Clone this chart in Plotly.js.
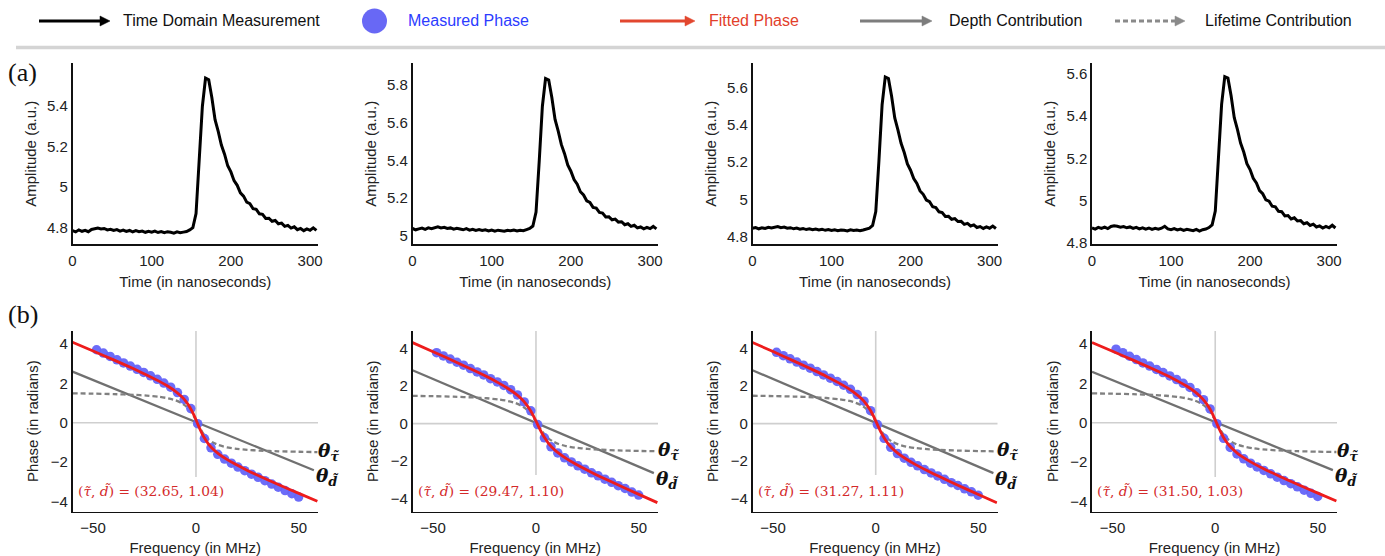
<!DOCTYPE html>
<html><head><meta charset="utf-8">
<script src="https://cdn.plot.ly/plotly-3.0.1.min.js"></script>
<style>html,body{margin:0;padding:0;background:#fff;} #chart{width:1385px;height:556px;}</style>
</head><body><div id="chart"></div>
<script>
// ---------- DATA ----------
const timeNs = [0,4,8,12,16,20,24,28,32,36,40,44,48,52,56,60,64,68,72,76,80,84,88,92,96,100,104,108,112,116,120,124,128,132,136,140,144,148,152,156,160,164,168,172,176,180,184,188,192,196,200,204,208,212,216,220,224,228,232,236,240,244,248,252,256,260,264,268,272,276,280,284,288,292,296,300,304,308];

const amp1 = [4.785,4.779,4.789,4.782,4.787,4.780,4.791,4.795,4.798,4.793,4.796,4.789,4.792,4.786,4.790,4.783,4.788,4.781,4.786,4.779,4.785,4.780,4.783,4.777,4.782,4.778,4.783,4.776,4.781,4.775,4.780,4.777,4.773,4.779,4.775,4.778,4.781,4.789,
 4.800,4.869,5.122,5.397,5.535,5.527,5.439,5.331,5.273,5.206,5.161,5.104,5.074,5.031,5.008,4.971,4.955,4.925,4.918,4.893,4.890,4.868,4.865,4.845,4.846,4.831,4.835,4.819,4.822,4.806,4.811,4.798,4.804,4.790,4.796,4.785,4.794,4.787,4.799,4.786];
const amp2 = [5.038,5.031,5.036,5.040,5.033,5.041,5.037,5.043,5.047,5.041,5.044,5.038,5.041,5.034,5.039,5.035,5.031,5.037,5.029,5.034,5.028,5.032,5.027,5.031,5.025,5.030,5.024,5.029,5.027,5.023,5.028,5.026,5.030,5.025,5.029,5.026,5.032,5.038,
 5.051,5.125,5.394,5.687,5.834,5.826,5.732,5.617,5.555,5.483,5.435,5.375,5.342,5.298,5.273,5.233,5.216,5.185,5.176,5.150,5.146,5.123,5.120,5.099,5.100,5.084,5.088,5.072,5.074,5.058,5.063,5.049,5.055,5.041,5.046,5.036,5.044,5.037,5.049,5.036];
const amp3 = [4.845,4.849,4.842,4.847,4.844,4.850,4.846,4.852,4.854,4.848,4.851,4.845,4.848,4.842,4.846,4.840,4.844,4.838,4.842,4.837,4.841,4.836,4.840,4.834,4.838,4.833,4.837,4.832,4.836,4.834,4.831,4.837,4.833,4.835,4.832,4.836,4.839,4.846,
 4.860,4.934,5.208,5.507,5.656,5.648,5.552,5.436,5.372,5.300,5.251,5.190,5.156,5.111,5.085,5.045,5.027,4.996,4.987,4.960,4.956,4.933,4.929,4.908,4.909,4.893,4.897,4.881,4.882,4.866,4.871,4.857,4.863,4.849,4.854,4.844,4.852,4.845,4.857,4.844];
const amp4 = [4.873,4.867,4.875,4.870,4.876,4.869,4.879,4.882,4.880,4.876,4.879,4.873,4.877,4.870,4.875,4.868,4.873,4.867,4.872,4.865,4.870,4.866,4.871,4.880,4.868,4.864,4.869,4.863,4.867,4.861,4.866,4.863,4.859,4.865,4.857,4.864,4.867,4.874,
 4.887,4.952,5.193,5.456,5.587,5.580,5.497,5.393,5.338,5.273,5.231,5.176,5.148,5.107,5.085,5.049,5.034,5.005,4.999,4.975,4.972,4.951,4.949,4.929,4.931,4.915,4.920,4.905,4.907,4.892,4.897,4.884,4.890,4.877,4.882,4.872,4.880,4.873,4.885,4.872];

const ampRanges = [[4.718,5.608],[4.954,5.915],[4.759,5.729],[4.795,5.65]];
const ampTicks = [[4.8,5,5.2,5.4],[5,5.2,5.4,5.6,5.8],[4.8,5,5.2,5.4,5.6],[4.8,5,5.2,5.4,5.6]];
const timeTicks = [0,100,200,300];

const freqFit = [-60,-50,-40,-30,-24,-18,-14,-10,-7,-5,-3,-2,-1,0,1,2,3,4,6,8,11,15,19,25,31,40,50,59];
const fit1 = [4.078,3.636,3.185,2.720,2.425,2.109,1.872,1.593,1.325,1.094,0.790,0.601,0.385,0.148,-0.099,-0.340,-0.560,-0.754,-1.067,-1.304,-1.577,-1.860,-2.097,-2.416,-2.710,-3.130,-3.581,-3.982];
const fit2 = [4.330,3.843,3.347,2.834,2.511,2.163,1.903,1.598,1.310,1.067,0.757,0.571,0.363,0.139,-0.093,-0.320,-0.531,-0.722,-1.039,-1.288,-1.581,-1.889,-2.151,-2.500,-2.824,-3.287,-3.784,-4.224];
const fit3 = [4.335,3.849,3.354,2.844,2.523,2.177,1.922,1.621,1.338,1.096,0.785,0.595,0.380,0.145,-0.097,-0.334,-0.554,-0.749,-1.069,-1.317,-1.605,-1.907,-2.167,-2.512,-2.834,-3.294,-3.790,-4.229];
const fit4 = [4.063,3.622,3.173,2.708,2.414,2.096,1.859,1.576,1.307,1.075,0.772,0.586,0.375,0.144,-0.096,-0.330,-0.545,-0.737,-1.048,-1.286,-1.561,-1.845,-2.086,-2.404,-2.698,-3.118,-3.569,-3.967];

const life1 = [1.491,1.475,1.451,1.413,1.375,1.315,1.249,1.140,1.000,0.855,0.636,0.490,0.317,0.123,-0.082,-0.280,-0.458,-0.609,-0.837,-0.988,-1.133,-1.245,-1.311,-1.374,-1.412,-1.448,-1.472,-1.488];
const life2 = [1.482,1.465,1.439,1.396,1.355,1.289,1.217,1.100,0.953,0.804,0.588,0.449,0.288,0.111,-0.074,-0.254,-0.418,-0.562,-0.785,-0.940,-1.092,-1.212,-1.286,-1.353,-1.395,-1.435,-1.462,-1.479];
const life3 = [1.487,1.471,1.446,1.406,1.367,1.303,1.236,1.123,0.981,0.833,0.616,0.473,0.305,0.117,-0.078,-0.269,-0.441,-0.589,-0.815,-0.969,-1.116,-1.230,-1.302,-1.365,-1.405,-1.442,-1.468,-1.484];
const life4 = [1.488,1.471,1.447,1.407,1.368,1.305,1.238,1.126,0.984,0.837,0.619,0.475,0.307,0.118,-0.079,-0.270,-0.443,-0.592,-0.819,-0.972,-1.119,-1.233,-1.304,-1.367,-1.406,-1.443,-1.469,-1.485];

const freqDepth = [-60,57.3];
const depth1 = [2.59,-2.41];
const depth2 = [2.85,-2.65];
const depth3 = [2.85,-2.65];
const depth4 = [2.58,-2.40];

const freqMeas = [-48.3,-45.0,-41.7,-38.4,-35.2,-31.9,-28.6,-25.4,-22.1,-18.8,-15.6,-12.3,-9.0,-5.7,-2.5,0.8,4.1,7.3,10.6,13.9,17.2,20.4,23.7,27.0,30.2,33.5,36.8,40.0,43.3,46.6,49.9];
const meas1 = [3.70,3.53,3.36,3.19,3.03,2.87,2.71,2.55,2.38,2.20,2.01,1.80,1.53,1.18,0.72,-0.05,-0.80,-1.27,-1.60,-1.84,-2.05,-2.25,-2.43,-2.61,-2.77,-2.94,-3.11,-3.27,-3.44,-3.60,-3.77];
const meas2 = [3.79,3.62,3.45,3.28,3.12,2.94,2.76,2.60,2.40,2.23,2.04,1.81,1.53,1.16,0.68,-0.05,-0.76,-1.24,-1.57,-1.83,-2.05,-2.26,-2.44,-2.63,-2.79,-2.97,-3.14,-3.32,-3.47,-3.66,-3.82];
const meas3 = [3.81,3.63,3.46,3.29,3.12,2.96,2.78,2.60,2.43,2.25,2.05,1.83,1.55,1.20,0.69,-0.05,-0.79,-1.27,-1.60,-1.85,-2.07,-2.26,-2.46,-2.64,-2.80,-2.98,-3.16,-3.31,-3.49,-3.65,-3.83];
const meas4 = [3.73,3.55,3.37,3.20,3.03,2.87,2.70,2.54,2.37,2.19,2.00,1.79,1.52,1.17,0.70,-0.05,-0.79,-1.25,-1.58,-1.83,-2.05,-2.24,-2.42,-2.59,-2.76,-2.93,-3.09,-3.25,-3.42,-3.58,-3.74];

const phaseRanges = [[-4.5,4.65],[-4.7,4.95],[-4.7,4.95],[-4.5,4.65]];
const phaseTicks = [-4,-2,0,2,4];
const freqTicks = [-50,0,50];
const fitLabels = ['(32.65, 1.04)','(29.47, 1.10)','(31.27, 1.11)','(31.50, 1.03)'];

const legendItems = ['Time Domain Measurement','Measured Phase','Fitted Phase','Depth Contribution','Lifetime Contribution'];

// ---------- LAYOUT ----------
const W = 1385, H = 556;
const colX = [[72.5,318],[412.5,658],[752.5,997.5],[1092,1337]];
const topRow = [63.3,244.3], botRow = [331,511.5];
const PX = x => x / W, PY = y => 1 - y / H;
const domX = a => [PX(a[0]), PX(a[1])];
const domY = a => [PY(a[1]), PY(a[0])];

const SANS = 'Liberation Sans, Arial, sans-serif';
const SERIF = 'Liberation Serif, Times New Roman, serif';
const axBase = {showgrid:false, zeroline:false, showline:true, linecolor:'#111', linewidth:1.6,
  ticks:'', tickfont:{size:15, color:'#222', family:SANS}, fixedrange:true, automargin:false};

const amps = [amp1, amp2, amp3, amp4];
const fits = [fit1, fit2, fit3, fit4];
const lifes = [life1, life2, life3, life4];
const depths = [depth1, depth2, depth3, depth4];
const meass = [meas1, meas2, meas3, meas4];

const RED = '#ee1c1c', BLUE = 'rgb(100,100,248)', GRAY = '#707070', DGRAY = '#808080';

const traces = [];
const layout = {
  width: W, height: H, margin:{l:0,r:0,t:0,b:0},
  paper_bgcolor:'#fff', plot_bgcolor:'rgba(0,0,0,0)', showlegend:false,
  font:{family:SANS, color:'#222', size:15},
  shapes:[], annotations:[]
};

for (let i = 0; i < 4; i++) {
  const t = i + 1, b = i + 5;
  const tn = t === 1 ? '' : String(t);
  // top panel
  layout['xaxis' + tn] = Object.assign({}, axBase, {domain: domX(colX[i]), anchor:'y' + tn,
    range:[0,310], tickvals: timeTicks, ticklabelstandoff:2,
    title:{text:'Time (in nanoseconds)', font:{size:15, color:'#222'}, standoff:8}});
  layout['yaxis' + tn] = Object.assign({}, axBase, {domain: domY(topRow), anchor:'x' + tn,
    range: ampRanges[i], tickvals: ampTicks[i],
    title:{text:'Amplitude (a.u.)', font:{size:15, color:'#222'}, standoff:7}});
  traces.push({x: timeNs, y: amps[i], xaxis:'x' + tn, yaxis:'y' + tn, type:'scatter', mode:'lines',
    line:{color:'#000', width:3}, hoverinfo:'skip'});

  // bottom panel
  layout['xaxis' + b] = Object.assign({}, axBase, {domain: domX(colX[i]), anchor:'y' + b,
    range:[-60,59.3], tickvals: freqTicks, ticklabelstandoff:2,
    title:{text:'Frequency (in MHz)', font:{size:15, color:'#222'}, standoff:8}});
  layout['yaxis' + b] = Object.assign({}, axBase, {domain: domY(botRow), anchor:'x' + b,
    range: phaseRanges[i], tickvals: phaseTicks,
    title:{text:'Phase (in radians)', font:{size:15, color:'#222'}, standoff:8}});

  layout.shapes.push({type:'line', layer:'below', xref:'x' + b + ' domain', yref:'y' + b,
    x0:0, x1:1, y0:0, y1:0, line:{color:'#cfcfcf', width:1.6}});
  layout.shapes.push({type:'line', layer:'below', xref:'x' + b, yref:'y' + b,
    x0:0, x1:0, y0:-2.75, y1:phaseRanges[i][1], line:{color:'#cfcfcf', width:1.6}});

  traces.push({x: freqDepth, y: depths[i], xaxis:'x' + b, yaxis:'y' + b, type:'scatter', mode:'lines',
    line:{color:GRAY, width:2.3}, hoverinfo:'skip'});
  traces.push({x: freqFit, y: lifes[i], xaxis:'x' + b, yaxis:'y' + b, type:'scatter', mode:'lines',
    line:{color:DGRAY, width:2.3, dash:'5px,3px', shape:'spline', smoothing:0.6}, hoverinfo:'skip'});
  traces.push({x: freqMeas, y: meass[i], xaxis:'x' + b, yaxis:'y' + b, type:'scatter', mode:'markers',
    marker:{color:BLUE, size:9.5, opacity:0.95, line:{width:0}}, hoverinfo:'skip'});
  traces.push({x: freqFit, y: fits[i], xaxis:'x' + b, yaxis:'y' + b, type:'scatter', mode:'lines',
    line:{color:RED, width:2.8, shape:'spline', smoothing:0.6}, hoverinfo:'skip'});

  // annotations
  layout.annotations.push({xref:'x' + b + ' domain', yref:'y' + b + ' domain', x:0.32, y:0.114,
    xanchor:'center', yanchor:'middle', showarrow:false,
    text:'(<i>τ̃</i>, <i>d̃</i>) = ' + fitLabels[i],
    font:{family:'DejaVu Serif, serif', size:13.8, color:'#d42a2a'}});
  layout.annotations.push({xref:'x' + b, yref:'y' + b, x:59.3, y:lifes[i][lifes[i].length-1],
    xanchor:'left', yanchor:'middle', yshift:0, xshift:-2, showarrow:false,
    text:'<b><i>θ</i></b><sub><b><i>τ̃</i></b></sub>',
    font:{family:'DejaVu Serif, serif', size:18.5, color:'#111'}});
  layout.annotations.push({xref:'x' + b, yref:'y' + b, x:freqDepth[1], y:depths[i][1],
    xanchor:'left', yanchor:'middle', yshift:-7, showarrow:false,
    text:'<b><i>θ</i></b><sub><b><i>d̃</i></b></sub>',
    font:{family:'DejaVu Serif, serif', size:18.5, color:'#111'}});
}

// panel letters
layout.annotations.push({xref:'paper', yref:'paper', x:PX(6), y:PY(73), xanchor:'left', yanchor:'middle',
  showarrow:false, text:'(a)', font:{family:SERIF, size:26, color:'#111'}});
layout.annotations.push({xref:'paper', yref:'paper', x:PX(6), y:PY(314), xanchor:'left', yanchor:'middle',
  showarrow:false, text:'(b)', font:{family:SERIF, size:26, color:'#111'}});

// legend header
const legY = 21;
function arrowShapes(x0, x1, color, dash) {
  const headL = 10, half = 5;
  layout.shapes.push({type:'line', xref:'paper', yref:'paper', x0:PX(x0), x1:PX(x1 - headL + 1),
    y0:PY(legY), y1:PY(legY), line:{color:color, width:3, dash: dash ? '5px,3px' : 'solid'}});
  layout.shapes.push({type:'path', xref:'paper', yref:'paper',
    path:`M ${PX(x1 - headL)},${PY(legY - half)} L ${PX(x1)},${PY(legY)} L ${PX(x1 - headL)},${PY(legY + half)} Z`,
    fillcolor:color, line:{color:color, width:0.5}});
}
arrowShapes(39, 110, '#000', false);
arrowShapes(620, 695, '#e2472f', false);
arrowShapes(860, 932, '#7d7d7d', false);
arrowShapes(1115, 1185, '#8a8a8a', true);
layout.shapes.push({type:'circle', xref:'paper', yref:'paper', x0:PX(362), x1:PX(387), y0:PY(33.5), y1:PY(8.5),
  fillcolor:'rgb(104,104,245)', line:{width:0}});
layout.shapes.push({type:'line', xref:'paper', yref:'paper', x0:PX(16), x1:1, y0:PY(47.5), y1:PY(47.5),
  line:{color:'#d4d4d4', width:3.5}});

const legTextX = [121, 406, 707, 947, 1203];
const legColors = ['#111', '#2c3cff', '#e2402a', '#111', '#111'];
legendItems.forEach((txt, k) => {
  layout.annotations.push({xref:'paper', yref:'paper', x:PX(legTextX[k]), y:PY(legY), xanchor:'left', yanchor:'middle',
    showarrow:false, text:txt, font:{family:SANS, size:16, color:legColors[k]}});
});

Plotly.newPlot('chart', traces, layout, {staticPlot:true, displayModeBar:false});
</script>
</body></html>
